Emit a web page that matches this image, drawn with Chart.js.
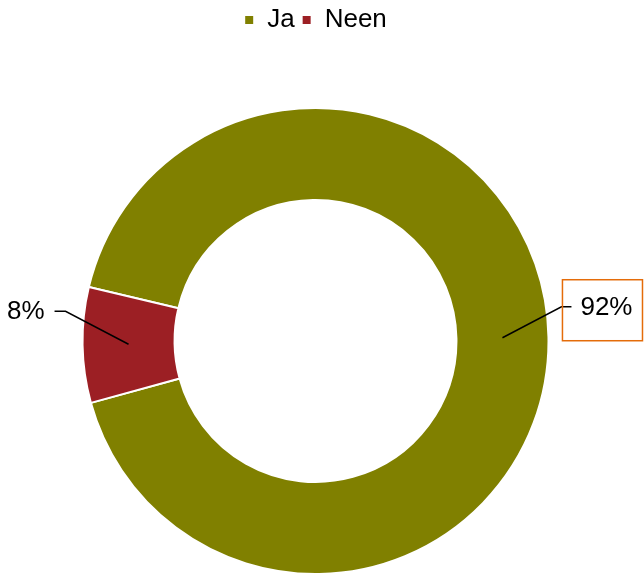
<!DOCTYPE html>
<html>
<head>
<meta charset="utf-8">
<script src="https://cdn.jsdelivr.net/npm/chart.js@4"></script>
<style>
  html, body { margin: 0; padding: 0; background: #fff; }
  #wrap { width: 644px; height: 575px; }
</style>
</head>
<body>
<div id="wrap"><canvas id="donut"></canvas></div>
<script>
const categories = ['Ja', 'Neen'];
const values = [92, 8];
const colors = ['#808000', '#9C1F24'];

// keep the legend at the top but leave room above the ring
const legendSpace = {
  id: 'legendSpace',
  beforeInit(chart) {
    const fit = chart.legend.fit;
    chart.legend.fit = function () {
      fit.call(this);
      this.height = 107;
    };
  }
};

// percentage labels with leader lines, placed roughly like the original
const pctLabels = {
  id: 'pctLabels',
  afterDatasetsDraw(chart) {
    const ctx = chart.ctx;
    const meta = chart.getDatasetMeta(0);
    const total = values.reduce((a, b) => a + b, 0);
    ctx.save();
    ctx.font = '26px "Liberation Sans", Arial, sans-serif';
    ctx.textBaseline = 'middle';
    meta.data.forEach((arc, i) => {
      const p = arc.getProps(['x', 'y', 'startAngle', 'endAngle', 'innerRadius', 'outerRadius'], true);
      const mid = (p.startAngle + p.endAngle) / 2;
      const r = (p.innerRadius + p.outerRadius) / 2;
      const ax = p.x + Math.cos(mid) * r;
      const ay = p.y + Math.sin(mid) * r;
      const right = Math.cos(mid) > 0;
      const ex = ax + (right ? 59 : -63);
      const ey = ay + (right ? -31 : -33);
      const hx = ex + (right ? 10 : -11);
      const text = Math.round(values[i] / total * 100) + '%';

      ctx.strokeStyle = '#000';
      ctx.lineWidth = 1.5;
      ctx.beginPath();
      ctx.moveTo(ax, ay);
      ctx.lineTo(ex, ey);
      ctx.lineTo(hx, ey);
      ctx.stroke();

      ctx.fillStyle = '#000';
      const w = ctx.measureText(text).width;
      const tx = right ? hx + 9 : hx - 10 - w;
      ctx.textAlign = 'left';
      ctx.fillText(text, tx, ey + 1);

      if (right) {
        ctx.strokeStyle = '#E46C0A';
        ctx.lineWidth = 1.5;
        ctx.strokeRect(tx - 18, ey - 27, w + 28, 61);
      }
    });
    ctx.restore();
  }
};

new Chart(document.getElementById('donut'), {
  type: 'doughnut',
  data: {
    labels: categories,
    datasets: [{
      data: values,
      backgroundColor: colors,
      borderColor: '#ffffff',
      borderWidth: 2,
      hoverOffset: 0
    }]
  },
  options: {
    responsive: true,
    maintainAspectRatio: false,
    animation: false,
    cutout: '60.5%',
    rotation: 283.4,
    layout: { padding: { top: 0, right: 13, left: 0, bottom: 0 } },
    plugins: {
      legend: {
        position: 'top',
        labels: {
          boxWidth: 10,
          boxHeight: 10,
          color: '#000',
          padding: 7,
          font: { size: 26, family: '"Liberation Sans", Arial, sans-serif' }
        }
      },
      tooltip: { enabled: false }
    }
  },
  plugins: [legendSpace, pctLabels]
});
</script>
</body>
</html>
